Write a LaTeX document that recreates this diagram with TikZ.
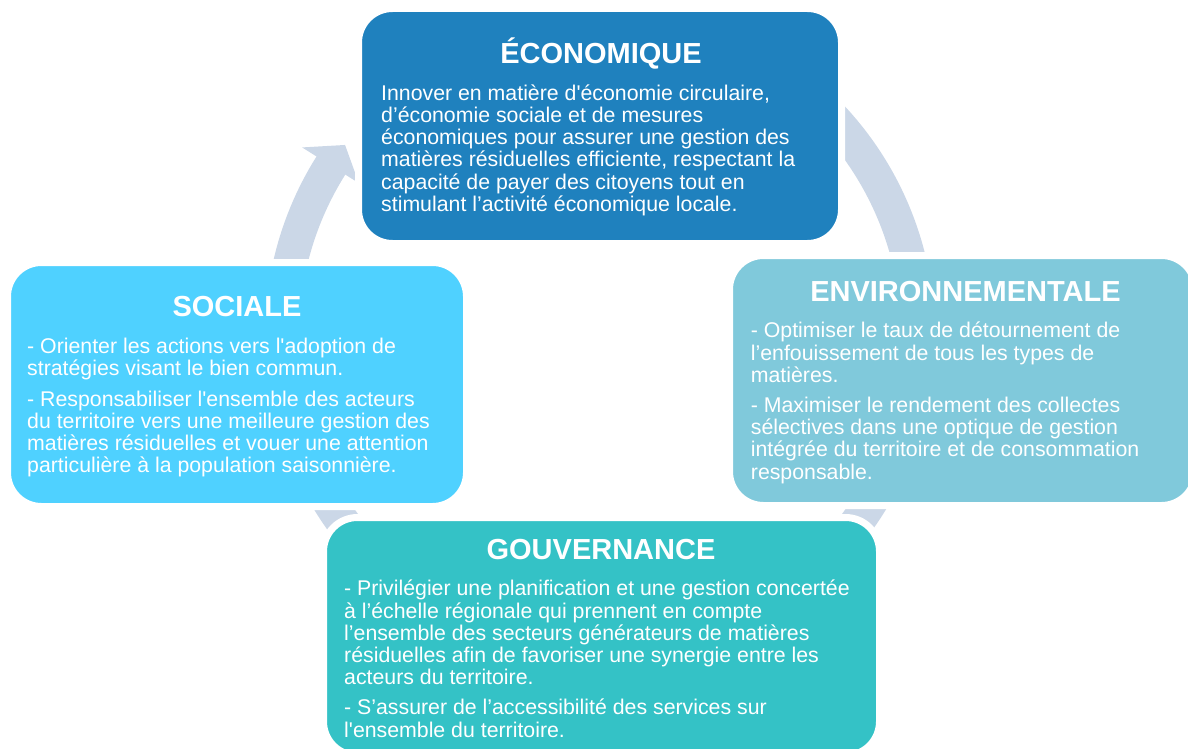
\documentclass[tikz,border=0pt]{standalone}
\usepackage{fontspec}
\setmainfont{Liberation Sans}
\usetikzlibrary{positioning}
\definecolor{ecobleu}{RGB}{31,129,190}
\definecolor{socbleu}{RGB}{79,209,255}
\definecolor{envbleu}{RGB}{128,201,219}
\definecolor{gouvvert}{RGB}{52,194,198}
\definecolor{fleche}{RGB}{203,215,231}

\begin{document}
\begin{tikzpicture}[x=1pt,y=1pt,
  boite/.style={rectangle,rounded corners=34pt,draw=white,line width=7pt,inner sep=0pt},
  titre/.style={text=white,font=\fontsize{29}{29}\selectfont\bfseries,anchor=base,inner sep=0pt},
  corps/.style={text=white,font=\fontsize{21.3}{22.2}\selectfont,align=left,anchor=north west,
    inner sep=0pt,execute at begin node=\rule{0pt}{22pt}},
  anneau/.style={draw=fleche,line width=34pt}]
\useasboundingbox (0,0) rectangle (1188,-749);
\coordinate (centre) at (600,-335);
% le cycle derriere les boites
\draw[anneau] ([shift={(190:318)}]centre) arc[start angle=190,end angle=147,radius=318];
\fill[fleche] ([shift={(147.8:352)}]centre) -- ([shift={(143.3:318)}]centre)
  -- ([shift={(147.8:285)}]centre) -- cycle;
\draw[anneau] ([shift={(70:318)}]centre) arc[start angle=70,end angle=-10,radius=318];
\draw[anneau] ([shift={(-20:318)}]centre) arc[start angle=-20,end angle=-60,radius=318];
\draw[anneau] ([shift={(-120:318)}]centre) arc[start angle=-120,end angle=-170,radius=318];
% les boites
\node[boite,fill=ecobleu,minimum width=483pt,minimum height=235pt] (eco) at (600,-126) {};
\node[boite,fill=socbleu,minimum width=459pt,minimum height=244pt] (soc) at (237,-384.5) {};
\node[boite,fill=envbleu,minimum width=466pt,minimum height=250pt] (env) at (962.5,-380.5) {};
\node[boite,fill=gouvvert,minimum width=556pt,minimum height=238pt] (gouv) at (601.5,-636.5) {};
% titres
\node[titre] (ecotitre) at (601,-63.3) {ÉCONOMIQUE};
\node[titre] (soctitre) at (237,-316) {SOCIALE};
\node[titre] (envtitre) at (965.5,-301.5) {ENVIRONNEMENTALE};
\node[titre] (gouvtitre) at (601,-559.5) {GOUVERNANCE};
% textes (premiere ligne de base 22pt sous le point)
\node[corps] (ecotexte) at (381,-84.5) {Innover en matière d\textquotesingle économie circulaire,\\
  d’économie sociale et de mesures\\
  économiques pour assurer une gestion des\\
  matières résiduelles efficiente, respectant la\\
  capacité de payer des citoyens tout en\\
  stimulant l’activité économique locale.};
\node[corps] (soctexte) at (27,-338) {- Orienter les actions vers l\textquotesingle adoption de\\
  stratégies visant le bien commun.\\[8pt]
  - Responsabiliser l\textquotesingle ensemble des acteurs\\
  du territoire vers une meilleure gestion des\\
  matières résiduelles et vouer une attention\\
  particulière à la population saisonnière.};
\node[corps] (envtexte) at (750.7,-322) {- Optimiser le taux de détournement de\\
  l’enfouissement de tous les types de\\
  matières.\\[8pt]
  - Maximiser le rendement des collectes\\
  sélectives dans une optique de gestion\\
  intégrée du territoire et de consommation\\
  responsable.};
\node[corps] (gouvtexte) at (344,-580) {- Privilégier une planification et une gestion concertée\\
  à l’échelle régionale qui prennent en compte\\
  l’ensemble des secteurs générateurs de matières\\
  résiduelles afin de favoriser une synergie entre les\\
  acteurs du territoire.\\[8pt]
  - S’assurer de l’accessibilité des services sur\\
  l\textquotesingle ensemble du territoire.};
\end{tikzpicture}
\end{document}
